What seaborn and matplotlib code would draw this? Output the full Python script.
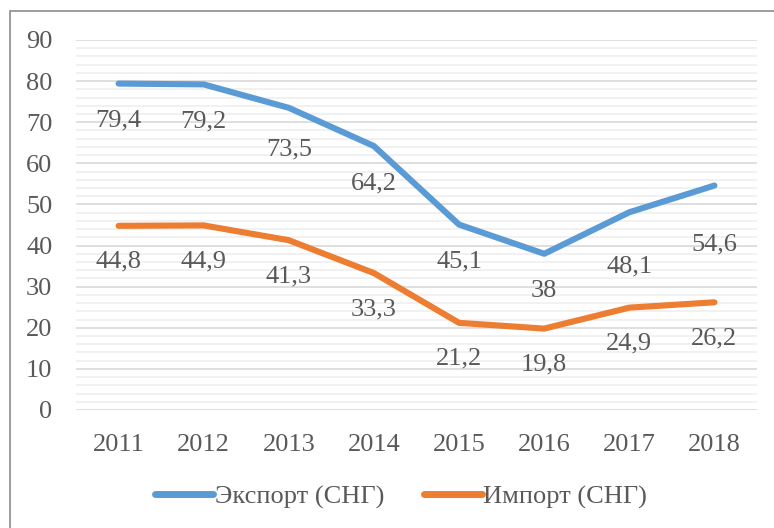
import matplotlib
matplotlib.use("Agg")
import matplotlib.pyplot as plt
import matplotlib.patches as mpatches
from matplotlib.ticker import MultipleLocator
import seaborn as sns
import pandas as pd

years = ["2011", "2012", "2013", "2014", "2015", "2016", "2017", "2018"]
export_vals = [79.4, 79.2, 73.5, 64.2, 45.1, 38, 48.1, 54.6]
import_vals = [44.8, 44.9, 41.3, 33.3, 21.2, 19.8, 24.9, 26.2]
export_name = "Экспорт (СНГ)"
import_name = "Импорт (СНГ)"

df = pd.DataFrame({
    "year": years * 2,
    "value": export_vals + import_vals,
    "series": [export_name] * len(years) + [import_name] * len(years),
})

sns.set_style("white")
plt.rcParams["font.family"] = ["Liberation Serif", "DejaVu Serif"]
txt_color = "#595959"
fs = 19

fig = plt.figure(figsize=(7.74, 5.28), dpi=100)
ax = fig.add_axes([76 / 774, 1 - 410 / 528, (757 - 76) / 774, (410 - 40) / 528])

palette = {export_name: "#5B9BD5", import_name: "#ED7D31"}
sns.lineplot(data=df, x="year", y="value", hue="series", palette=palette,
             linewidth=4.4, ax=ax, legend=True, solid_capstyle="round")

ax.set_xlim(-0.5, len(years) - 0.5)
ax.set_ylim(0, 90)
ax.yaxis.set_major_locator(MultipleLocator(10))
ax.yaxis.set_minor_locator(MultipleLocator(2))
ax.grid(which="major", axis="y", color="#D9D9D9", linewidth=1.2, zorder=0)
ax.grid(which="minor", axis="y", color="#EFEFEF", linewidth=1.2, zorder=0)
ax.set_axisbelow(True)
for s in ax.spines.values():
    s.set_visible(False)
ax.tick_params(axis="both", which="both", length=0, labelsize=fs, labelcolor=txt_color)
ax.tick_params(axis="y", pad=17)
ax.tick_params(axis="x", pad=17)
ax.set_xlabel("")
ax.set_ylabel("")

def fmt(v):
    s = f"{v:g}"
    return s.replace(".", ",")

# label offsets below point (pixels converted to points)
export_extra = [0, 0, 5, 0, 0, 0, 17, 22]
for i, v in enumerate(export_vals):
    off = -(37 + export_extra[i]) * 0.72
    ax.annotate(fmt(v), (i, v), xytext=(0, off), textcoords="offset points",
                ha="center", va="center", fontsize=fs, color=txt_color)
for i, v in enumerate(import_vals):
    ax.annotate(fmt(v), (i, v), xytext=(0, -36 * 0.72), textcoords="offset points",
                ha="center", va="center", fontsize=fs, color=txt_color)

leg = ax.legend(loc="center", bbox_to_anchor=(401 / 774, 1 - 497 / 528),
                bbox_transform=fig.transFigure, ncol=2, frameon=False,
                fontsize=fs, handlelength=2.2, handletextpad=0.05, columnspacing=1.5)
for t in leg.get_texts():
    t.set_color(txt_color)
for h in leg.get_lines():
    h.set_linewidth(5)
    h.set_solid_capstyle("round")

rect = mpatches.Rectangle((9.5 / 774, -0.05), 1.2, 1 - 11.5 / 528 + 0.05,
                          transform=fig.transFigure, fill=False,
                          edgecolor="#8C8C8C", linewidth=1.2, clip_on=False)
fig.patches.append(rect)

fig.savefig("out.png", dpi=100)
